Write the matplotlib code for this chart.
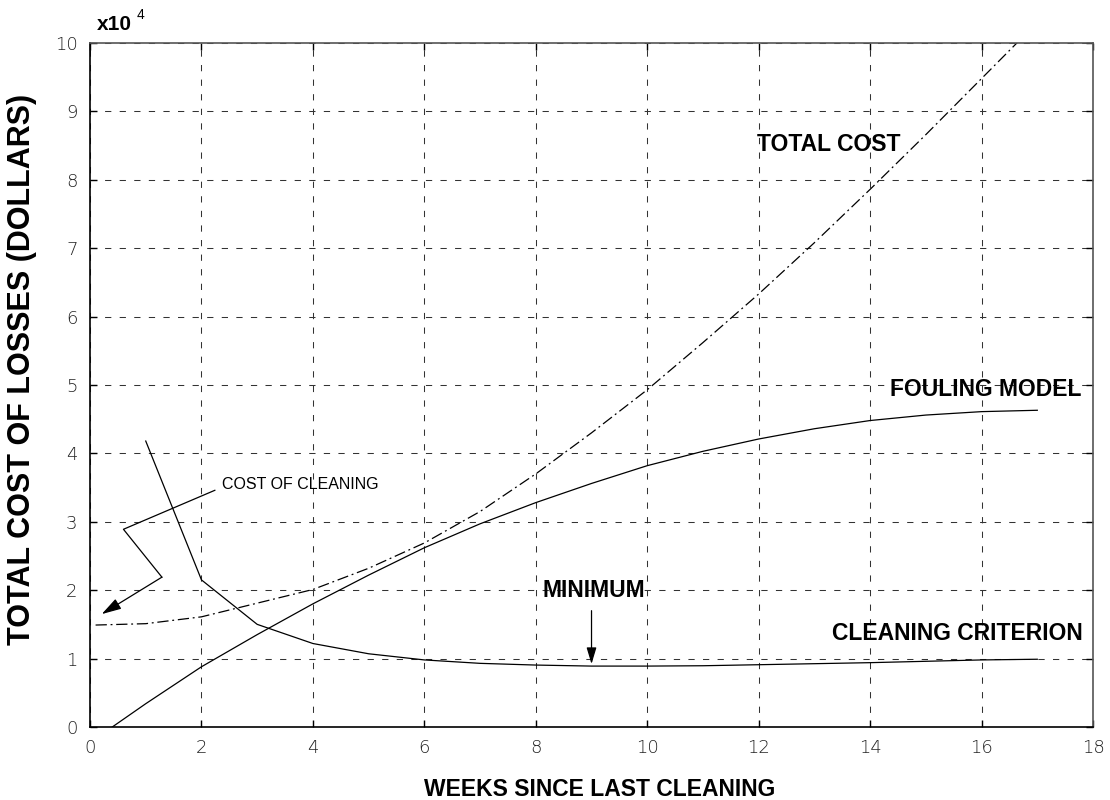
import matplotlib
matplotlib.use("Agg")
import matplotlib.pyplot as plt

# ---- data (units of 10^4 dollars) ----
weeks_total = [0.1, 1, 2, 3, 4, 5, 6, 7, 8, 9, 10, 11, 12, 13, 14, 15, 16, 17]
total_cost = [1.49, 1.51, 1.61, 1.81, 2.01, 2.32, 2.69, 3.15, 3.70, 4.30, 4.93,
              5.62, 6.33, 7.08, 7.86, 8.66, 9.48, 10.30]

weeks_fouling = [0.4, 1, 2, 3, 4, 5, 6, 7, 8, 9, 10, 11, 12, 13, 14, 15, 16, 17]
fouling_model = [0.0, 0.34, 0.88, 1.35, 1.80, 2.22, 2.62, 2.97, 3.28, 3.56, 3.82,
                 4.03, 4.21, 4.36, 4.48, 4.56, 4.61, 4.63]

weeks_crit = [1, 2, 3, 4, 5, 6, 7, 8, 9, 10, 11, 12, 13, 14, 15, 16, 17]
cleaning_criterion = [4.18, 2.15, 1.50, 1.22, 1.07, 0.98, 0.93, 0.905, 0.89, 0.89,
                      0.895, 0.91, 0.925, 0.94, 0.96, 0.98, 0.99]

x_ticks = [0, 2, 4, 6, 8, 10, 12, 14, 16, 18]
y_ticks = [0, 1, 2, 3, 4, 5, 6, 7, 8, 9, 10]

plt.rcParams["font.family"] = ["DejaVu Sans"]
plt.rcParams["font.weight"] = "light"
plt.rcParams["xtick.labelsize"] = 13
plt.rcParams["ytick.labelsize"] = 13
plt.rcParams["xtick.labelcolor"] = "#222222"
plt.rcParams["ytick.labelcolor"] = "#222222"

BOLD = dict(family=["Liberation Sans", "DejaVu Sans"], weight="bold")
REG = dict(family=["Liberation Sans", "DejaVu Sans"], weight="normal")

fig = plt.figure(figsize=(11.1, 8.0), dpi=100)
ax = fig.add_axes([0.0811, 0.0913, 0.9036, 0.855])

lw = 0.9
ax.plot(weeks_total, total_cost, color="black", lw=lw,
        linestyle=(0, (9, 3, 1.5, 3)))
ax.plot(weeks_fouling, fouling_model, color="black", lw=lw)
ax.plot(weeks_crit, cleaning_criterion, color="black", lw=lw)

ax.set_xlim(0, 18)
ax.set_ylim(0, 10)
ax.set_xticks(x_ticks, [str(v) for v in x_ticks])
ax.set_yticks(y_ticks, [str(v) for v in y_ticks])
ax.tick_params(direction="in", length=5, width=1, top=True, right=True, color="black")
ax.tick_params(axis="x", pad=9)
ax.tick_params(axis="y", pad=9)

ax.grid(True, color="#333333", lw=0.75, linestyle=(0, (6, 8)))
for s in ("left", "bottom"):
    ax.spines[s].set_color("black")
    ax.spines[s].set_linewidth(1.2)
for s in ("top", "right"):
    ax.spines[s].set_color("#555555")
    ax.spines[s].set_linewidth(1.2)

ax.set_xlabel("WEEKS SINCE LAST CLEANING", fontsize=16.5, **BOLD)
ax.xaxis.set_label_coords(0.508, -0.0746)
ax.set_ylabel("TOTAL COST OF LOSSES (DOLLARS)", fontsize=22, **BOLD)
ax.yaxis.set_label_coords(-0.0528, 0.522)

# curve labels
ax.text(13.25, 8.51, "TOTAL COST", fontsize=16.5, ha="center", va="center", **BOLD)
ax.text(16.08, 4.94, "FOULING MODEL", fontsize=16.5, ha="center", va="center", **BOLD)
ax.text(15.57, 1.36, "CLEANING CRITERION", fontsize=16.5, ha="center", va="center", **BOLD)
ax.text(9.05, 2.0, "MINIMUM", fontsize=16.5, ha="center", va="center", **BOLD)
ax.text(2.37, 3.54, "COST OF CLEANING", fontsize=11.5, ha="left", va="center", **REG)

# minimum arrow
ax.annotate("", xy=(9.0, 0.92), xytext=(9.0, 1.7),
            arrowprops=dict(arrowstyle="-|>,head_length=1.0,head_width=0.3",
                            color="black", lw=0.9, mutation_scale=10,
                            shrinkA=0, shrinkB=0))

# cost of cleaning zig-zag leader
ax.plot([2.24, 0.60, 1.29], [3.46, 2.89, 2.19], color="black", lw=0.9)
ax.annotate("", xy=(0.21, 1.65), xytext=(1.29, 2.19),
            arrowprops=dict(arrowstyle="-|>,head_length=1.2,head_width=0.35",
                            color="black", lw=0.9, mutation_scale=10,
                            shrinkA=0, shrinkB=0))

# exponent marker
fig.text(97 / 1110, 1 - 30 / 800, "x10", fontsize=15, va="baseline", ha="left", **BOLD)
fig.text(137 / 1110, 1 - 19 / 800, "4", fontsize=10, va="baseline", ha="left", **REG)

fig.savefig("out.png", dpi=100)
